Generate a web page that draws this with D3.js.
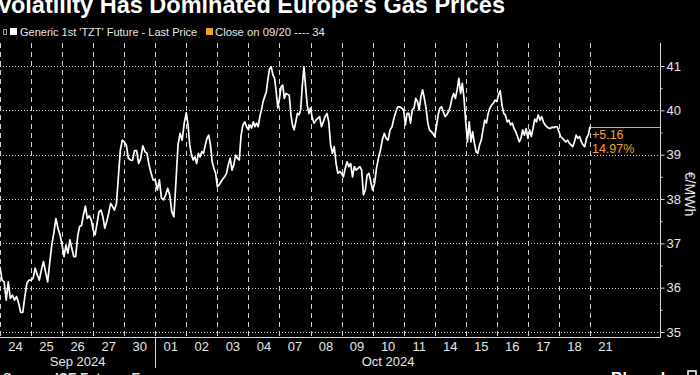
<!DOCTYPE html>
<html lang="en">
  <head>
    <meta charset="UTF-8" />
    <title>Volatility Has Dominated Europe's Gas Prices</title>
    <script src="https://d3js.org/d3.v7.min.js"></script>
    <style>
      body { margin: 0; background: #000; }
      svg { display: block; background: #000; font-family: "Liberation Sans", Arial, sans-serif; }
      .axis text { fill: #e6e6e6; }
    </style>
  </head>
  <body>
    <svg id="chart" width="700" height="375"></svg>
    <script>
      const dayLabels = ["24", "25", "26", "27", "30", "01", "02", "03", "04", "07",
        "08", "09", "10", "11", "14", "15", "16", "17", "18", "21"];
      const months = [
        { label: "Sep 2024", from: "24", to: "30" },
        { label: "Oct 2024", from: "01", to: "21" }
      ];
      // intraday prices per trading day, evenly spaced through the day
      const sessions = [
        [36.47, 36.17, 36.13, 35.72, 36.13, 35.76, 35.83, 35.72, 35.8, 35.65, 35.44, 35.44, 35.8, 36.1, 36.17],
        [36.17, 36.21, 36.44, 36.29, 36.17, 36.4, 36.59, 36.36, 36.13, 36.55, 36.96, 37.23, 37.56, 37.34, 37.19],
        [36.96, 36.7, 36.96, 36.78, 37.08, 36.89, 36.7, 36.7, 37.15, 37.38, 37.4, 37.64, 37.84, 37.56, 37.62, 37.53],
        [37.3, 37.19, 37.45, 37.71, 37.75, 37.6, 37.34, 37.49, 37.68, 37.9, 37.83, 37.75, 37.9, 38.5, 39.1, 39.33],
        [39.29, 39.22, 38.92, 38.88, 38.87, 39.09, 39.09, 38.8, 38.92, 39.2, 39.07, 39.03, 38.77, 38.58, 38.43],
        [38.43, 38.2, 38.43, 38.02, 37.98, 38.09, 38.24, 38.09, 37.71, 37.6, 38.39, 39.22, 39.48, 39.33, 39.71],
        [39.95, 39.67, 39.22, 38.99, 38.88, 38.95, 38.8, 39.03, 38.95, 39.07, 39.03, 39.22, 39.37, 39.44, 39.22, 38.84, 38.69, 38.58],
        [38.28, 38.32, 38.39, 38.45, 38.5, 38.58, 38.77, 38.92, 38.65, 38.77, 38.99, 38.92, 38.88, 39.44, 39.67, 39.74, 39.63],
        [39.56, 39.67, 39.6, 39.74, 39.63, 39.71, 39.63, 39.86, 40.01, 40.2, 40.31, 40.42, 40.72, 40.94, 40.98, 40.8, 40.72, 40.42, 40.05],
        [40.27, 40.53, 40.57, 40.27, 40.38, 40.36, 40.34, 39.9, 39.67, 39.56, 39.74, 39.93, 39.9, 40.01, 40.57, 40.98, 40.53, 40.12, 39.93],
        [40.05, 39.82, 39.71, 39.78, 39.82, 39.86, 39.63, 39.74, 39.86, 39.93, 39.74, 39.22, 39.03, 39.18, 38.8, 38.58, 38.62],
        [38.58, 38.5, 38.69, 38.84, 38.73, 38.8, 38.5, 38.73, 38.65, 38.69, 38.73, 38.65, 38.09, 38.2, 38.54, 38.58, 38.39],
        [38.2, 38.35, 38.69, 38.92, 39.1, 39.33, 39.48, 39.37, 39.33, 39.56, 39.63, 39.82, 39.97, 40.08, 40.08, 40.05],
        [40.01, 39.67, 39.93, 39.93, 39.71, 40.01, 40.05, 40.27, 40.2, 40.01, 40.31, 40.46, 40.27, 40.05, 39.71, 39.56, 39.52, 39.48],
        [39.41, 39.63, 39.9, 40.05, 40.08, 39.97, 39.86, 39.9, 39.97, 40.08, 40.27, 40.38, 40.27, 40.46, 40.72, 40.38, 40.61, 40.27],
        [39.74, 39.29, 39.74, 39.29, 39.52, 39.26, 39.07, 39.03, 39.22, 39.33, 39.56, 39.78, 39.71, 39.93, 40.05, 40.12, 40.16, 40.23],
        [40.2, 40.35, 40.44, 40.12, 39.93, 39.89, 39.74, 39.78, 39.67, 39.71, 39.59, 39.52, 39.41, 39.29, 39.37, 39.56, 39.44, 39.59],
        [39.37, 39.56, 39.41, 39.59, 39.8, 39.74, 39.9, 39.78, 39.86, 39.74, 39.67, 39.63, 39.6, 39.59, 39.62, 39.61, 39.63, 39.63],
        [39.52, 39.41, 39.37, 39.33, 39.29, 39.33, 39.26, 39.22, 39.18, 39.29, 39.44, 39.37, 39.41, 39.29, 39.22, 39.18, 39.37, 39.44]
      ];
      const lastPrice = 39.63;
      const closeRef = 34.47;
      const yTicks = [35, 36, 37, 38, 39, 40, 41];
      const yMinorTicks = [35.5, 36.5, 37.5, 38.5, 39.5, 40.5];

      const svg = d3.select("#chart");
      const plotTop = 43, plotBottom = 337, plotRight = 660;
      const orange = "#f2a22e";
      const gridColor = "#d0d0d0";
      const crisp = v => Math.round(v) + 0.5;

      const x = d3.scaleBand().domain(dayLabels).range([0, 621]).paddingInner(0).paddingOuter(0);
      const y = d3.scaleLinear().domain([35, 41]).range([332, 66]);
      const pos = d3.scaleLinear().domain([0, dayLabels.length]).range([0, 621]);

      // points: each session spread across its day band
      const points = [];
      sessions.forEach((vals, k) => {
        vals.forEach((v, i) => points.push({ t: k + i / vals.length, v }));
      });
      points.push({ t: sessions.length, v: lastPrice });

      // grids, dashes built from short segments
      const dotted = gy => {
        const p = d3.path();
        for (let gx = 0; gx < plotRight; gx += 3) { p.moveTo(gx, gy); p.lineTo(gx + 1, gy); }
        return p.toString();
      };
      const dashed = gx => {
        const p = d3.path();
        for (let gy = plotTop; gy < plotBottom; gy += 9) { p.moveTo(gx, gy); p.lineTo(gx, Math.min(gy + 5, plotBottom)); }
        return p.toString();
      };
      yTicks.forEach(t => {
        svg.append("path").attr("d", dotted(crisp(y(t))))
          .attr("stroke", gridColor).attr("stroke-width", 1).attr("fill", "none");
      });
      dayLabels.forEach(d => {
        svg.append("path").attr("d", dashed(crisp(x(d))))
          .attr("stroke", gridColor).attr("stroke-width", 1).attr("fill", "none");
      });

      // close reference line at last price
      svg.append("line")
        .attr("x1", pos(sessions.length)).attr("x2", plotRight)
        .attr("y1", crisp(y(lastPrice))).attr("y2", crisp(y(lastPrice)))
        .attr("stroke", orange).attr("stroke-width", 1);

      // price line
      svg.append("path")
        .datum(points)
        .attr("fill", "none")
        .attr("stroke", "#fff")
        .attr("stroke-width", 1.7)
        .attr("stroke-linejoin", "round")
        .attr("d", d3.line().x(d => pos(d.t)).y(d => y(d.v)));

      // change annotation
      const chg = lastPrice - closeRef;
      svg.append("text").attr("x", pos(sessions.length) + 2).attr("y", y(lastPrice) + 12)
        .attr("fill", orange).attr("font-size", 12.5).text("+" + chg.toFixed(2));
      svg.append("text").attr("x", pos(sessions.length) + 2).attr("y", y(lastPrice) + 26)
        .attr("fill", orange).attr("font-size", 12.5).text((chg / closeRef * 100).toFixed(2) + "%");

      // axes frame
      svg.append("line").attr("x1", 0).attr("x2", plotRight + 0.5).attr("y1", plotBottom + 0.5).attr("y2", plotBottom + 0.5)
        .attr("stroke", "#d8d8d8").attr("stroke-width", 1);
      svg.append("line").attr("x1", plotRight + 0.5).attr("x2", plotRight + 0.5).attr("y1", plotTop).attr("y2", plotBottom + 0.5)
        .attr("stroke", "#d8d8d8").attr("stroke-width", 1);

      const yAxis = svg.append("g").attr("class", "axis")
        .attr("transform", `translate(${plotRight + 0.5},0)`)
        .call(d3.axisRight(y).tickValues(yTicks).tickSize(4).tickPadding(2).tickFormat(d3.format("d")));
      yAxis.select(".domain").remove();
      yAxis.selectAll("line").attr("stroke", "#d8d8d8");
      yAxis.selectAll("text").attr("font-size", 13);
      svg.append("g").attr("transform", `translate(${plotRight + 0.5},0)`)
        .call(d3.axisRight(y).tickValues(yMinorTicks).tickSize(2).tickFormat(""))
        .call(g => g.select(".domain").remove())
        .selectAll("line").attr("stroke", "#d8d8d8");

      svg.append("text")
        .attr("transform", `translate(685,194) rotate(90)`)
        .attr("text-anchor", "middle").attr("fill", "#e6e6e6").attr("font-size", 14)
        .text("€/MWh");

      const xAxis = svg.append("g").attr("class", "axis")
        .attr("transform", `translate(0,${plotBottom})`)
        .call(d3.axisBottom(x).tickSize(0).tickPadding(5));
      xAxis.select(".domain").remove();
      xAxis.selectAll("text").attr("font-size", 13).attr("dy", "0.71em");

      months.forEach(m => {
        const x0 = x(m.from), x1 = x(m.to) + x.bandwidth();
        svg.append("text").attr("x", (x0 + x1) / 2).attr("y", 366)
          .attr("text-anchor", "middle").attr("fill", "#e6e6e6").attr("font-size", 13)
          .text(m.label);
      });
      svg.append("line")
        .attr("x1", crisp(x(months[1].from))).attr("x2", crisp(x(months[1].from)))
        .attr("y1", plotBottom).attr("y2", 368)
        .attr("stroke", "#d8d8d8").attr("stroke-width", 1);

      // title and legend
      svg.append("text").attr("x", -3).attr("y", 13)
        .attr("fill", "#fff").attr("font-size", 23.5).attr("font-weight", "bold")
        .text("Volatility Has Dominated Europe's Gas Prices");

      svg.append("rect").attr("x", 3.5).attr("y", 29.5).attr("width", 3).attr("height", 5)
        .attr("fill", "none").attr("stroke", "#999");
      svg.append("rect").attr("x", 10).attr("y", 28).attr("width", 7).attr("height", 7).attr("fill", "#fff");
      svg.append("text").attr("x", 20).attr("y", 36).attr("fill", "#e6e6e6").attr("font-size", 11)
        .text("Generic 1st 'TZT' Future - Last Price");
      svg.append("rect").attr("x", 206).attr("y", 28).attr("width", 7).attr("height", 7).attr("fill", orange);
      svg.append("text").attr("x", 215).attr("y", 36).attr("fill", "#e6e6e6").attr("font-size", 11.3)
        .text("Close on 09/20 ---- 34");

      // footer (cut off by frame)
      svg.append("text").attr("x", 3).attr("y", 382).attr("fill", "#e6e6e6")
        .attr("font-size", 13).attr("font-weight", "bold").text("Source: ICE Futures Europe");
      svg.append("text").attr("x", 611).attr("y", 384).attr("fill", "#fff")
        .attr("font-size", 16).attr("font-weight", "bold").text("Bloomberg");
      svg.append("rect").attr("x", 688).attr("y", 371).attr("width", 8).attr("height", 8)
        .attr("fill", "none").attr("stroke", "#fff").attr("stroke-width", 1.5);
    </script>
  </body>
</html>
